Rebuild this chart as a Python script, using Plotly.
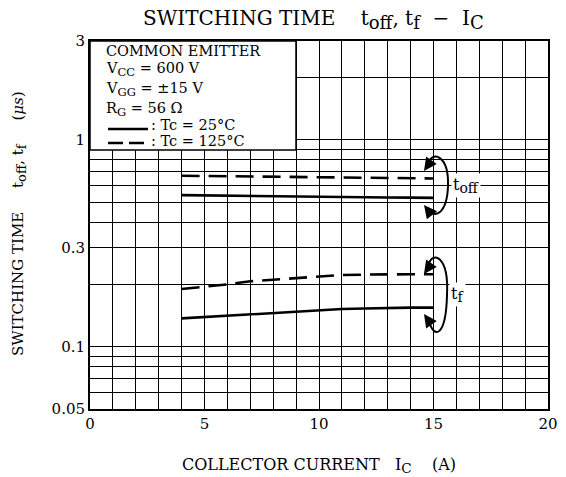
import numpy as np
import plotly.graph_objects as go

# ---------------- data ----------------
ic = [4, 5, 6, 7, 8, 9, 10, 11, 12, 13, 14, 15]
toff_25 = [0.54, 0.538, 0.536, 0.534, 0.532, 0.530, 0.529, 0.528, 0.527, 0.526, 0.525, 0.524]
toff_125 = [0.67, 0.668, 0.666, 0.664, 0.662, 0.660, 0.658, 0.656, 0.655, 0.653, 0.652, 0.650]
tf_25 = [0.137, 0.139, 0.141, 0.1436, 0.146, 0.148, 0.150, 0.152, 0.153, 0.154, 0.1545, 0.1545]
tf_125 = [0.190, 0.195, 0.200, 0.207, 0.211, 0.215, 0.219, 0.222, 0.223, 0.224, 0.224, 0.224]

x_ticks = [0, 5, 10, 15, 20]
y_ticks = [0.05, 0.1, 0.3, 1, 3]
y_ticklabels = ["0.05", "0.1", "0.3", "1", "3"]
y_minor = [0.06, 0.07, 0.08, 0.09, 0.2, 0.4, 0.5, 0.6, 0.7, 0.8, 0.9, 2]

W, H = 566, 477
L, R, T, B = 90, 548, 41, 409
FONT = "DejaVu Serif"
SP = "&nbsp;"


def px(x):
    return (x - L) / (R - L)


def py(y):
    return (B - y) / (B - T)


def sub(s, size):
    return f"<sub><span style='font-size:{size}px'>{s}</span></sub>"


fig = go.Figure()
solid = dict(color="black", width=2.6)
dashed = dict(color="black", width=2.6, dash="18px,9px")
fig.add_trace(go.Scatter(x=ic, y=toff_125, mode="lines", line=dashed))
fig.add_trace(go.Scatter(x=ic, y=toff_25, mode="lines", line=solid))
fig.add_trace(go.Scatter(x=ic, y=tf_125, mode="lines", line=dashed))
fig.add_trace(go.Scatter(x=ic, y=tf_25, mode="lines", line=solid))

shapes = []
# legend box
shapes.append(dict(type="rect", xref="paper", yref="paper",
                   x0=px(L), x1=px(296), y0=py(150), y1=py(T),
                   fillcolor="white", line=dict(color="black", width=1.5), layer="above"))
# legend line samples
shapes.append(dict(type="line", xref="paper", yref="paper",
                   x0=px(108), x1=px(148), y0=py(129), y1=py(129),
                   line=dict(color="black", width=2.6), layer="above"))
shapes.append(dict(type="line", xref="paper", yref="paper",
                   x0=px(108), x1=px(148), y0=py(143), y1=py(143),
                   line=dict(color="black", width=2.6, dash="15px,6px"), layer="above"))


def arc(points):
    (a, b), (c1x, c1y), (c2x, c2y), (mx, my), (c3x, c3y), (c4x, c4y), (ex, ey) = points
    return (f"M {px(a)},{py(b)} C {px(c1x)},{py(c1y)} {px(c2x)},{py(c2y)} {px(mx)},{py(my)} "
            f"C {px(c3x)},{py(c3y)} {px(c4x)},{py(c4y)} {px(ex)},{py(ey)}")


shapes.append(dict(type="path", xref="paper", yref="paper", layer="above",
                   path=arc([(428, 164), (432, 150), (449, 155), (448, 186),
                             (447, 214), (434, 220), (428, 208)]),
                   line=dict(color="black", width=2)))
shapes.append(dict(type="path", xref="paper", yref="paper", layer="above",
                   path=arc([(428, 266), (432, 250), (449, 255), (447, 295),
                             (446, 336), (434, 342), (428, 318)]),
                   line=dict(color="black", width=2)))

ann = []


def txt(x, y, s, size=14.5, xanchor="left", **kw):
    ann.append(dict(xref="paper", yref="paper", x=px(x), y=py(y), text=s,
                    showarrow=False, xanchor=xanchor, yanchor="middle",
                    font=dict(family=FONT, size=size, color="black"), **kw))


txt(104, 51, "COMMON EMITTER")
txt(104, 70, "V" + sub("CC", 11.5) + " = 600 V")
txt(104, 89, "V" + sub("GG", 11.5) + " = ±15 V")
txt(104, 109, "R" + sub("G", 11.5) + " = 56 Ω")
txt(149, 125, ": Tc = 25°C")
txt(149, 141, ": Tc = 125°C")
txt(451, 185, "t" + sub("off", 14), size=16, bgcolor="white")
txt(449, 294, "t" + sub("f", 14), size=16, bgcolor="white")

# axis titles
txt(319, 465, "COLLECTOR CURRENT" + SP * 3 + "I" + sub("C", 13.5) + SP * 4 + "(A)",
    size=16, xanchor="center")
ann.append(dict(xref="paper", yref="paper", x=px(19), y=py(224), textangle=-90,
                text="SWITCHING TIME" + SP * 5 + "t" + sub("off", 13) + ", t" + sub("f", 13)
                     + SP * 5 + "(<i>μs</i>)",
                showarrow=False, xanchor="center", yanchor="middle",
                font=dict(family=FONT, size=15, color="black")))
# title
txt(313, 19, "SWITCHING TIME" + SP * 4 + "t" + sub("off", 18) + ", t" + sub("f", 18)
    + SP * 2 + "−" + SP * 2 + "I" + sub("C", 18), size=20, xanchor="center")

# arrow heads
for tip, off in [((424, 171), (7, -10)), ((424, 205), (7, 9)),
                 ((424, 274), (7, -10)), ((424, 314), (7, 10))]:
    ann.append(dict(xref="paper", yref="paper", x=px(tip[0]), y=py(tip[1]),
                    ax=off[0], ay=off[1], axref="pixel", ayref="pixel",
                    showarrow=True, arrowhead=2, arrowsize=1.3, arrowwidth=2,
                    arrowcolor="black", text=""))

fig.update_layout(
    width=W, height=H,
    margin=dict(l=L, r=W - R, t=T, b=H - B, autoexpand=False),
    plot_bgcolor="white", paper_bgcolor="white",
    showlegend=False,
    font=dict(family=FONT, size=15, color="black"),
    shapes=shapes, annotations=ann,
    xaxis=dict(range=[0, 20], tickvals=x_ticks, showgrid=True, gridcolor="black",
               gridwidth=1, showline=True, linecolor="black", linewidth=2, mirror=True,
               ticks="", zeroline=False, automargin=False,
               minor=dict(dtick=1, showgrid=True, gridcolor="black", gridwidth=1),
               tickfont=dict(family=FONT, size=15)),
    yaxis=dict(type="log", range=[np.log10(0.05), np.log10(3)], tickvals=y_ticks,
               ticktext=y_ticklabels, showgrid=True, gridcolor="black", gridwidth=1,
               showline=True, linecolor="black", linewidth=2, mirror=True, ticks="",
               zeroline=False, automargin=False,
               minor=dict(tickvals=y_minor, showgrid=True, gridcolor="black", gridwidth=1),
               tickfont=dict(family=FONT, size=15)),
)

fig.write_html("out.html", config=dict(displayModeBar=False),
               post_script="document.body.style.margin='0';document.body.style.padding='0';")
